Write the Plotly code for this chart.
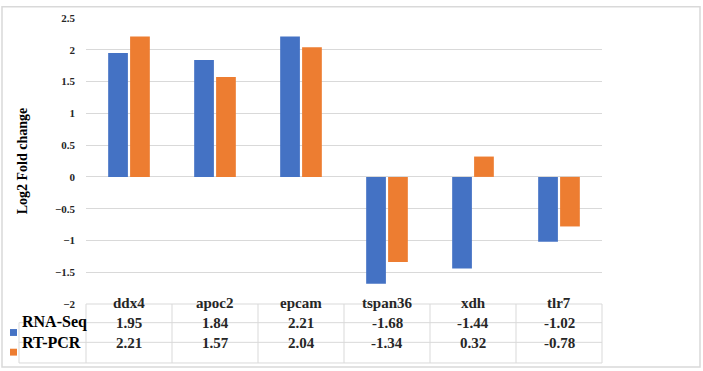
import plotly.graph_objects as go

categories = ["ddx4", "apoc2", "epcam", "tspan36", "xdh", "tlr7"]
rna_seq = [1.95, 1.84, 2.21, -1.68, -1.44, -1.02]
rt_pcr = [2.21, 1.57, 2.04, -1.34, 0.32, -0.78]
series_names = ["RNA-Seq", "RT-PCR"]
colors = ["#4472C4", "#ED7D31"]

W, H = 703, 371
L, R, T, B = 86, 101, 13, 67
plot_h = H - T - B
plot_w = W - L - R
FONT = "Liberation Serif, Times New Roman, serif"
GRID = "#d9d9d9"


def py(p):
    # pixel y -> paper y
    return (H - B - p) / plot_h


def px(p):
    return (p - L) / plot_w


fig = go.Figure()
for name, vals, col in zip(series_names, [rna_seq, rt_pcr], colors):
    fig.add_trace(go.Bar(x=categories, y=vals, name=name, marker_color=col,
                         marker_line_width=0, showlegend=False, hoverinfo="skip"))

shapes = []
n = len(categories)
# table horizontal lines
for yy, x0 in [(304, 86), (323, 19), (343, 19), (364, 19)]:
    shapes.append(dict(type="line", xref="paper", yref="paper", x0=px(x0), x1=1,
                       y0=py(yy), y1=py(yy), line=dict(color=GRID, width=1)))
# table vertical lines (column boundaries)
for i in range(n + 1):
    xb = i / n
    shapes.append(dict(type="line", xref="paper", yref="paper", x0=xb, x1=xb,
                       y0=py(304), y1=py(364), line=dict(color=GRID, width=1)))
shapes.append(dict(type="line", xref="paper", yref="paper", x0=px(19), x1=px(19),
                   y0=py(323), y1=py(364), line=dict(color=GRID, width=1)))
# legend keys
for k, col in enumerate(colors):
    yc = 333 + 20 * k
    shapes.append(dict(type="rect", xref="paper", yref="paper", x0=px(10), x1=px(17),
                       y0=py(yc - 3.5), y1=py(yc + 3.5), fillcolor=col, line_width=0))
# outer frame
shapes.append(dict(type="rect", xref="paper", yref="paper", x0=px(2), x1=px(700),
                   y0=py(368), y1=py(1.5), line=dict(color=GRID, width=1.5)))

ann = []
for i, c in enumerate(categories):
    ann.append(dict(x=c, y=py(313.5), xref="x", yref="paper", text=f"<b>{c}</b>",
                    showarrow=False, font=dict(family=FONT, size=15, color="#262626")))
    for k, vals in enumerate([rna_seq, rt_pcr]):
        ann.append(dict(x=c, y=py(333 + 20.5 * k), xref="x", yref="paper",
                        text=f"<b>{vals[i]:.2f}</b>", showarrow=False,
                        font=dict(family=FONT, size=15, color="#262626")))
for k, name in enumerate(series_names):
    ann.append(dict(x=px(20), y=py(333 + 20.5 * k), xref="paper", yref="paper",
                    text=f"<b>{name}</b>", showarrow=False, xanchor="left",
                    font=dict(family=FONT, size=16, color="#000000")))

fig.update_layout(
    width=W, height=H,
    margin=dict(l=L, r=R, t=T, b=B),
    paper_bgcolor="white", plot_bgcolor="white",
    font=dict(family=FONT),
    barmode="group", bargap=0.49, bargroupgap=0.1,
    shapes=shapes, annotations=ann,
    xaxis=dict(showticklabels=False, showgrid=False, zeroline=False,
               range=[-0.5, n - 0.5], showline=False),
    yaxis=dict(range=[-2, 2.5], dtick=0.5, showgrid=True, gridcolor=GRID,
               gridwidth=1, zeroline=True, zerolinecolor=GRID, zerolinewidth=1,
               tickfont=dict(family=FONT, size=11, color="#262626", weight="bold"),
               ticklabelstandoff=10,
               title=dict(text="<b>Log2 Fold change</b>",
                          font=dict(family=FONT, size=14, color="#000000"),
                          standoff=24)),
)

fig.write_html("out.html", config={"displayModeBar": False},
               post_script="document.body.style.margin='0';document.body.style.padding='0';")
